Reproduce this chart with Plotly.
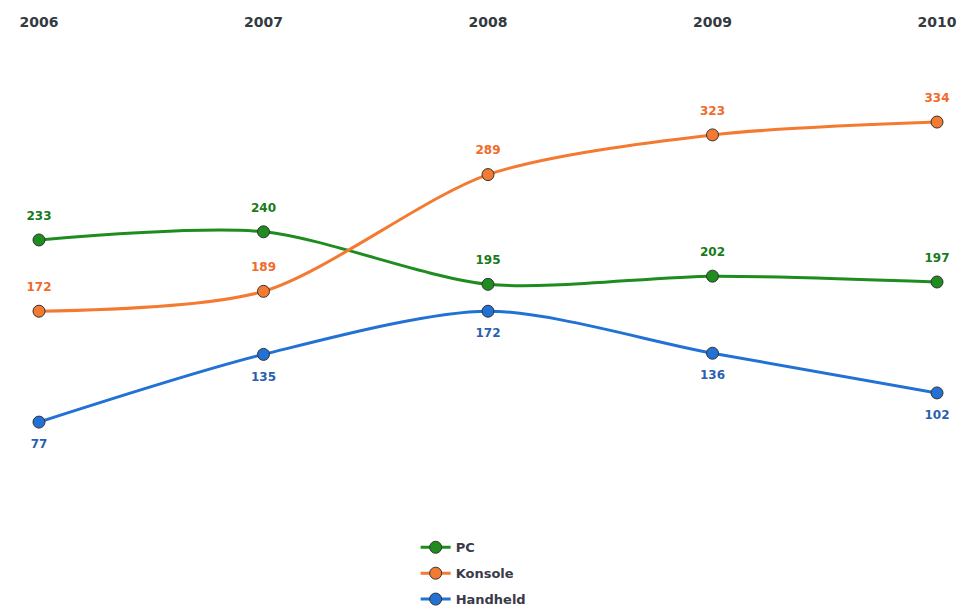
import plotly.graph_objects as go

years = [2006, 2007, 2008, 2009, 2010]
pc = [233, 240, 195, 202, 197]
konsole = [172, 189, 289, 323, 334]
handheld = [77, 135, 172, 136, 102]

series = [
    ("PC", pc, "#1e8c1e", "#187a18", "top center"),
    ("Konsole", konsole, "#f47a32", "#f06a2a", "top center"),
    ("Handheld", handheld, "#2271d4", "#2b5fb0", "bottom center"),
]

fig = go.Figure()
for name, vals, col, tcol, pos in series:
    fig.add_trace(go.Scatter(
        x=years, y=vals, name=name, mode="lines+markers", legendgroup=name,
        line=dict(color=col, width=3, shape="spline", smoothing=0.8),
        marker=dict(size=12, color=col, line=dict(color="#333333", width=1)),
        cliponaxis=False,
    ))
    fig.add_trace(go.Scatter(
        x=years, y=vals, mode="markers+text", showlegend=False, legendgroup=name,
        marker=dict(size=26, color=col, opacity=0),
        text=[str(v) for v in vals], textposition=pos,
        textfont=dict(family="DejaVu Sans", size=12, color=tcol, weight="bold"),
        hoverinfo="skip", cliponaxis=False,
    ))

fig.update_layout(
    width=963, height=607,
    margin=dict(l=39, r=26, t=45, b=95, autoexpand=False),
    paper_bgcolor="white", plot_bgcolor="white",
    showlegend=True,
    legend=dict(orientation="v", x=0.484, xanchor="center", yref="container",
                y=0.123, yanchor="top",
                font=dict(family="DejaVu Sans", size=13, color="#3a3a4a", weight="bold"),
                itemwidth=30, tracegroupgap=6),
    xaxis=dict(range=[2006, 2010], side="top", tickvals=years, automargin=False,
               ticktext=[str(y) for y in years], showgrid=False, zeroline=False,
               showline=False, ticks="", ticklabelstandoff=14,
               tickfont=dict(family="DejaVu Sans", size=14, color="#333a40", weight="bold")),
    yaxis=dict(range=[0, 400], visible=False, showgrid=False, zeroline=False,
               automargin=False),
)

fig.write_html("out.html")
